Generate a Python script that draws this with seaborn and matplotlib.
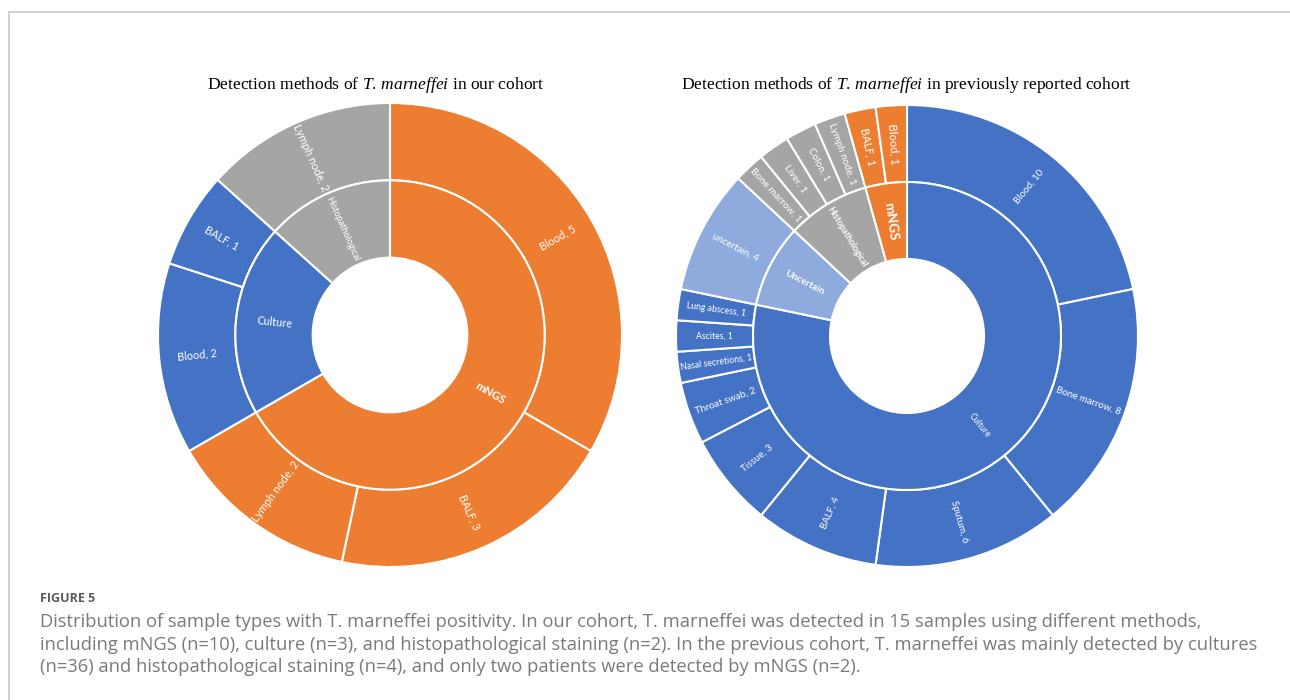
import numpy as np
import matplotlib
matplotlib.use("Agg")
import matplotlib.pyplot as plt
from matplotlib.lines import Line2D
import seaborn as sns

# --- data: our cohort ---
left_methods = ["mNGS", "Culture", "Histopathological"]
left_method_counts = [10, 3, 2]
left_samples = ["Blood", "BALF", "Lymph node", "Blood", "BALF", "Lymph node"]
left_sample_counts = [5, 3, 2, 2, 1, 2]
left_sample_method = ["mNGS", "mNGS", "mNGS", "Culture", "Culture", "Histopathological"]

# --- data: previously reported cohort ---
right_methods = ["Culture", "Uncertain", "Histopathological", "mNGS"]
right_method_counts = [36, 4, 4, 2]
right_samples = ["Blood", "Bone marrow", "Sputum", "BALF", "Tissue", "Throat swab",
                 "Nasal secretions", "Ascites", "Lung abscess", "uncertain",
                 "Bone marrow", "Liver", "Colon", "Lymph node", "BALF", "Blood"]
right_sample_counts = [10, 8, 6, 4, 3, 2, 1, 1, 1, 4, 1, 1, 1, 1, 1, 1]
right_sample_method = ["Culture"] * 9 + ["Uncertain"] + ["Histopathological"] * 4 + ["mNGS"] * 2

method_colors = {"mNGS": "#ED7D31", "Culture": "#4472C4",
                 "Histopathological": "#A5A5A5", "Uncertain": "#8FAADC"}

caption_lines = [
    "Distribution of sample types with T. marneffei positivity. In our cohort, T. marneffei was detected in 15 samples using different methods,",
    "including mNGS (n=10), culture (n=3), and histopathological staining (n=2). In the previous cohort, T. marneffei was mainly detected by cultures",
    "(n=36) and histopathological staining (n=4), and only two patients were detected by mNGS (n=2).",
]

sns.set_theme(style="white")
plt.rcParams["font.family"] = ["Lato", "DejaVu Sans"]
plt.rcParams["mathtext.fontset"] = "custom"
plt.rcParams["mathtext.rm"] = "Liberation Serif"
plt.rcParams["mathtext.it"] = "Liberation Serif:italic"

W, H = 1290, 700
fig = plt.figure(figsize=(W / 100, H / 100), dpi=100)


def ring_labels(ax, names, methods, counts, r, bold, size, with_count):
    total = sum(counts)
    start = 90.0
    for name, m, c in zip(names, methods, counts):
        span = 360.0 * c / total
        mid = start - span / 2
        start -= span
        rot = (mid + 180) % 360 - 180
        if rot > 90:
            rot -= 180
        elif rot < -90:
            rot += 180
        x, y = r * np.cos(np.radians(mid)), r * np.sin(np.radians(mid))
        label = f"{name}, {c}" if with_count else name
        fs = size(name, m, c) if callable(size) else size
        ax.text(x, y, label, rotation=rot, rotation_mode="anchor",
                ha="center", va="center", color="white", fontsize=fs,
                fontweight="bold" if name in bold else "normal")


def sunburst(cx, cy, rad, methods, mcounts, samples, scounts, smethod, bold, inner_fs, outer_fs):
    ax = fig.add_axes([(cx - rad) / W, (H - cy - rad) / H, 2 * rad / W, 2 * rad / H])
    ax.pie(scounts, radius=1.0, startangle=90, counterclock=False,
           colors=[method_colors[m] for m in smethod],
           wedgeprops=dict(width=1 / 3, edgecolor="white", linewidth=1.5))
    ax.pie(mcounts, radius=2 / 3, startangle=90, counterclock=False,
           colors=[method_colors[m] for m in methods],
           wedgeprops=dict(width=1 / 3, edgecolor="white", linewidth=1.5))
    ax.set_xlim(-1, 1)
    ax.set_ylim(-1, 1)
    ax.set_aspect("equal")
    ax.axis("off")
    ring_labels(ax, methods, methods, mcounts, 0.5, bold, inner_fs, False)
    ring_labels(ax, samples, smethod, scounts, 0.835, set(), outer_fs, True)
    return ax


sunburst(390, 335, 232, left_methods, left_method_counts, left_samples,
         left_sample_counts, left_sample_method, {"mNGS"},
         lambda n, m, c: {"mNGS": 8.2, "Culture": 7.8}.get(n, 6.6),
         lambda n, m, c: 8.0 if n == "Lymph node" else 7.8)
sunburst(907, 336, 231, right_methods, right_method_counts, right_samples,
         right_sample_counts, right_sample_method,
         {"mNGS", "Uncertain", "Histopathological"},
         lambda n, m, c: {"mNGS": 9.5, "Uncertain": 7.0}.get(n, 6.3),
         lambda n, m, c: (8.0 if m == "mNGS"
                          else 7.2 if m == "Histopathological"
                          else 6.3 if c == 1 else 7.0))

# titles
title_kw = dict(ha="center", va="center", fontsize=12.6, family="Liberation Serif", color="black")
fig.text(376 / W, 1 - 85 / H, r"Detection methods of $\mathit{T.\,marneffei}$ in our cohort", **title_kw)
fig.text(906 / W, 1 - 85 / H, r"Detection methods of $\mathit{T.\,marneffei}$ in previously reported cohort", **title_kw)

# frame lines
frame_c = "#C8C8C8"
fig.add_artist(Line2D([9 / W, 1], [1 - 12 / H, 1 - 12 / H], color=frame_c, lw=1.2))
fig.add_artist(Line2D([9 / W, 9 / W], [0, 1 - 12 / H], color=frame_c, lw=1.2))

# caption
cap_font = ["Open Sans", "DejaVu Sans"]
fig.text(40 / W, 1 - 598 / H, "FIGURE 5", ha="left", va="center", fontsize=9,
         fontweight="bold", color="#5A5A5A", family=cap_font)
cap_texts = [fig.text(40 / W, 1 - (622 + 22.5 * i) / H, line, ha="left", va="center",
                      fontsize=11.2, color="#7A7A7A", family=cap_font)
             for i, line in enumerate(caption_lines)]

# stretch caption so the longest line spans like the original (~1216 px)
renderer = fig.canvas.get_renderer()
w_now = cap_texts[1].get_window_extent(renderer).width
scale = 1216 / w_now
for t in cap_texts:
    t.set_fontsize(11.2 * scale)

fig.savefig("out.png", dpi=100, facecolor="white")
